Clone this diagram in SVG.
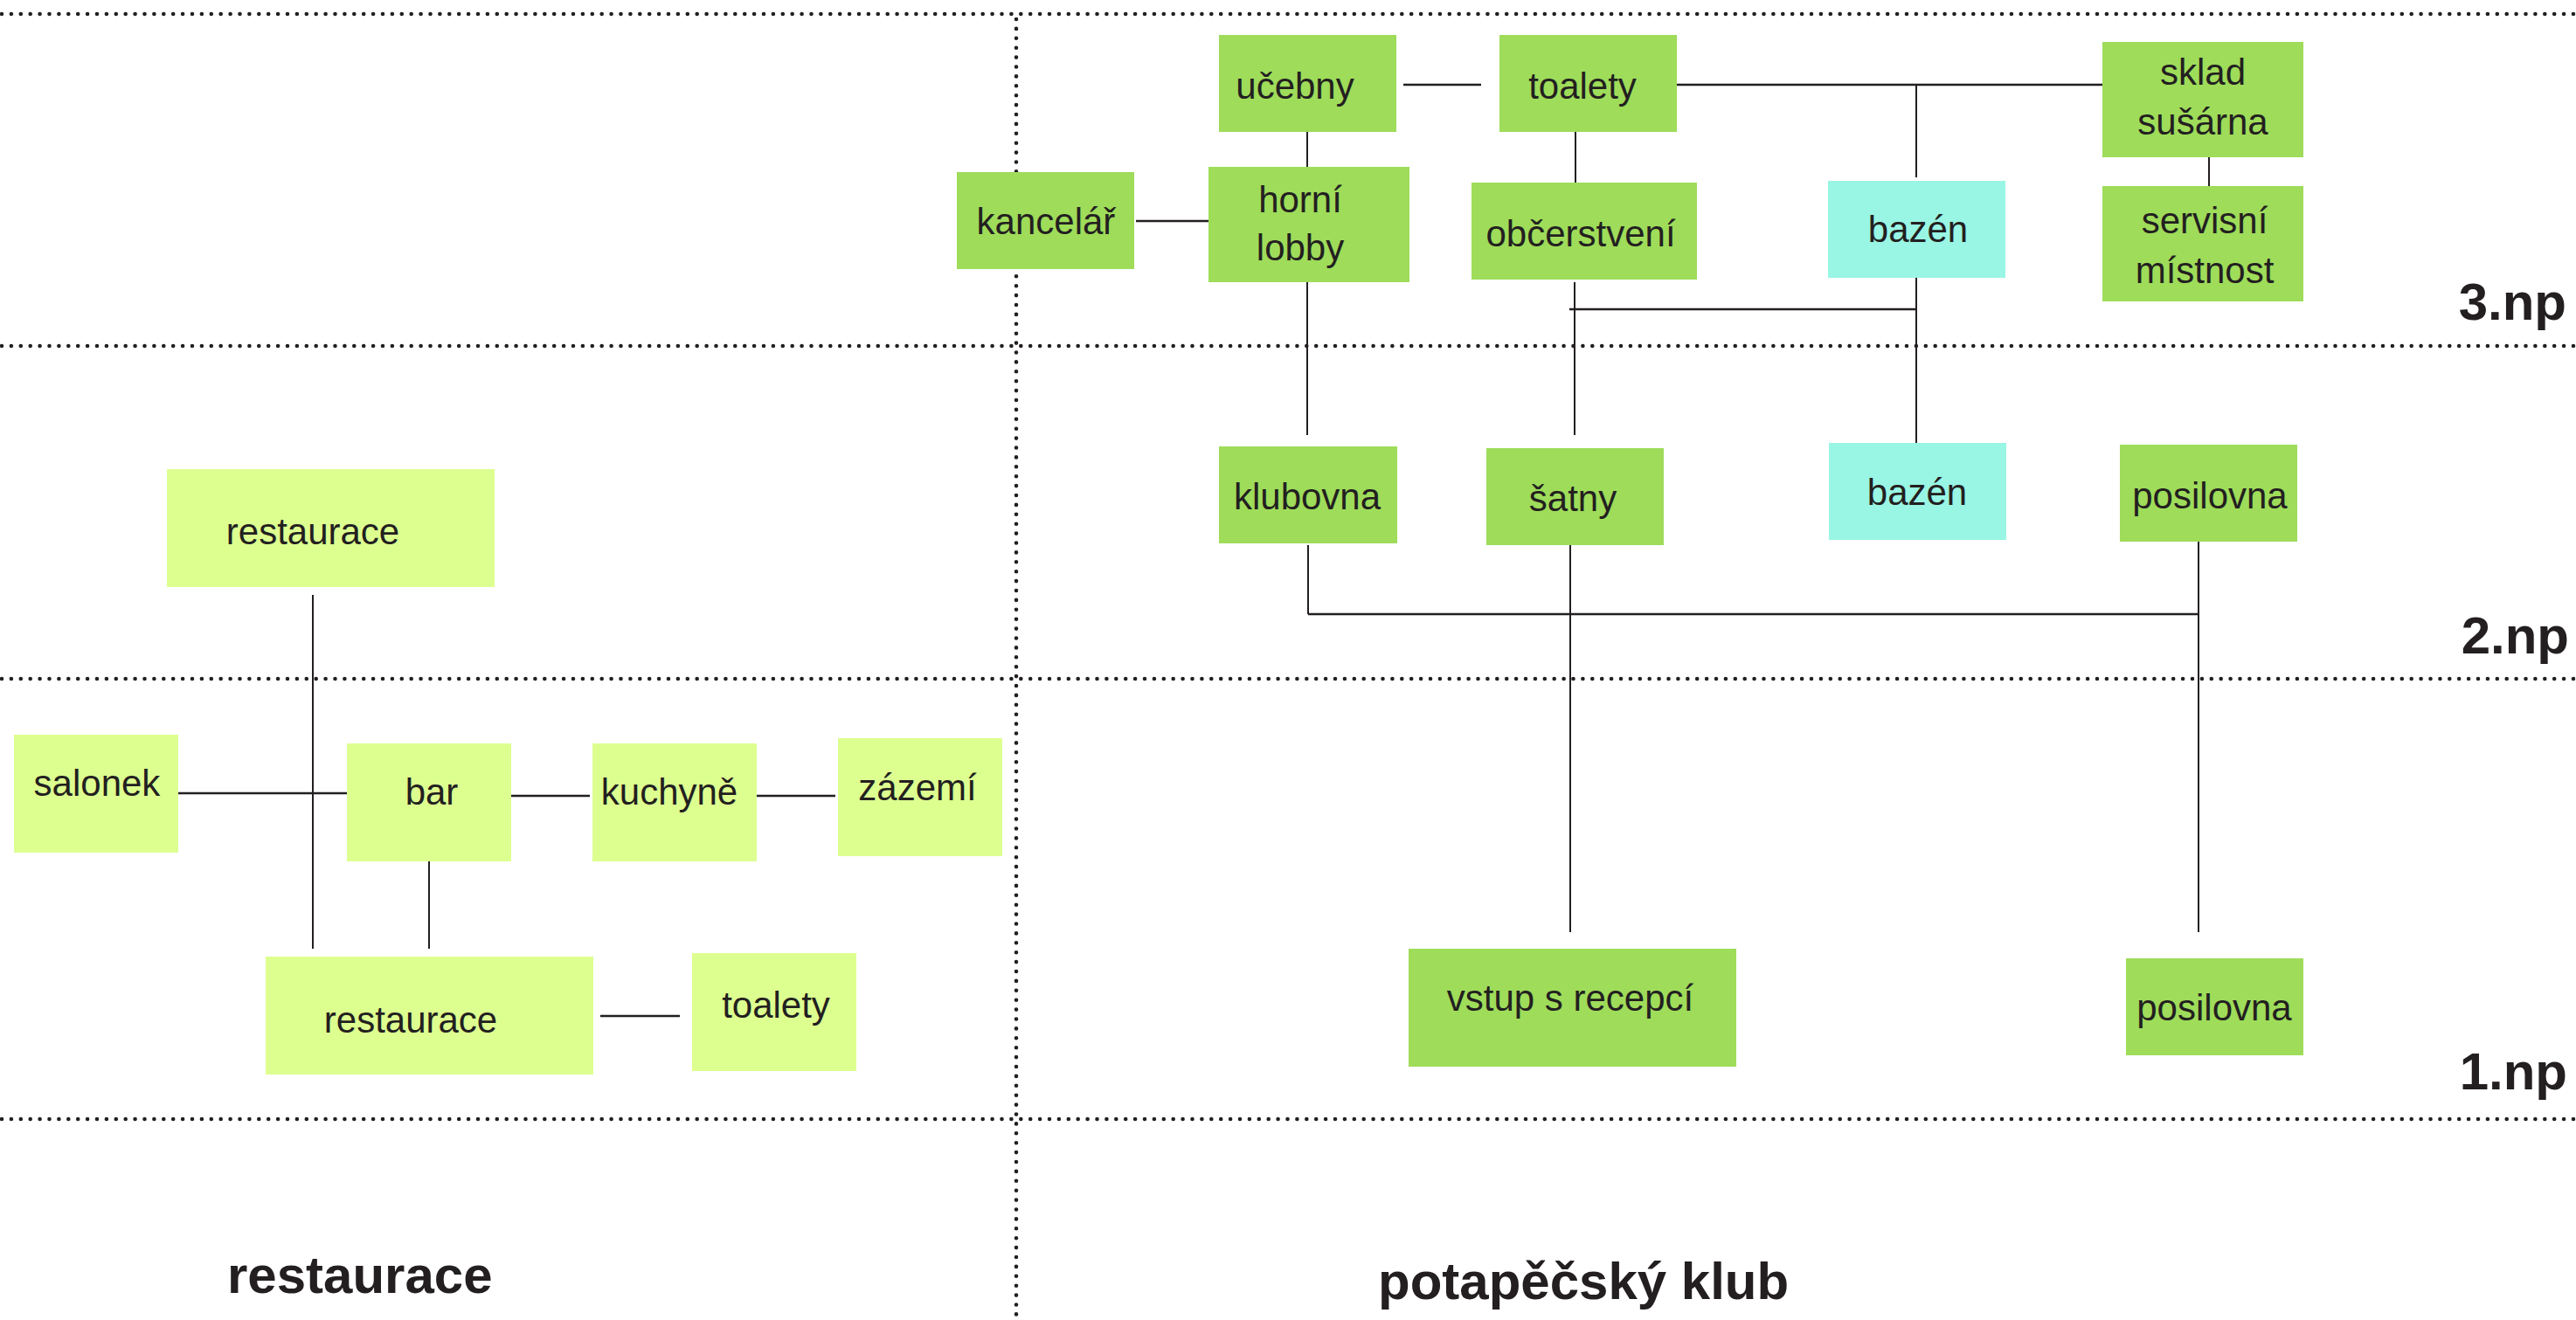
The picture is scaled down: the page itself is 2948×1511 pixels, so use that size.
<svg xmlns="http://www.w3.org/2000/svg" width="2948" height="1511" viewBox="0 0 2948 1511">
<style>
  .g rect { fill: #9edc5a; }
  .y rect { fill: #ddff90; }
  .c rect { fill: #99f5e4; }
  text { font-family: "Liberation Sans", Arial, sans-serif; fill: #231f20; }
  .t { font-size: 42px; text-anchor: middle; }
  .b { font-size: 60px; font-weight: bold; }
  .e { text-anchor: end; }
  .dot { stroke: #231f20; stroke-width: 4.6; stroke-linecap: round; stroke-dasharray: 0 10.9; fill: none; }
  .ln line { stroke: #231f20; stroke-width: 2; }
  .ln line.h { stroke-width: 2.5; }
</style>
<rect width="2948" height="1511" fill="#ffffff"/>
<g id="grid">
  <line class="dot" x1="2" y1="16" x2="2948" y2="16"/>
  <line class="dot" x1="2" y1="396" x2="2948" y2="396"/>
  <line class="dot" x1="2" y1="777" x2="2948" y2="777"/>
  <line class="dot" x1="2" y1="1281" x2="2948" y2="1281"/>
  <line class="dot" x1="1163" y1="22" x2="1163" y2="1511"/>
</g>
<g id="connectors" class="ln">
  <line x1="358" y1="681" x2="358" y2="1086"/>
  <line class="h" x1="204" y1="908" x2="413" y2="908"/>
  <line class="h" x1="585" y1="911" x2="675" y2="911"/>
  <line class="h" x1="866" y1="911" x2="956" y2="911"/>
  <line x1="491" y1="948" x2="491" y2="1086"/>
  <line class="h" x1="687" y1="1163" x2="778" y2="1163"/>
  <line class="h" x1="1606" y1="97" x2="1695" y2="97"/>
  <line class="h" x1="1919" y1="97" x2="2406" y2="97"/>
  <line x1="2193" y1="97" x2="2193" y2="203"/>
  <line x1="1496" y1="142" x2="1496" y2="209"/>
  <line class="h" x1="1300" y1="253" x2="1391" y2="253"/>
  <line x1="1496" y1="323" x2="1496" y2="498"/>
  <line x1="1803" y1="146" x2="1803" y2="213"/>
  <line x1="1802" y1="323" x2="1802" y2="498"/>
  <line class="h" x1="1796" y1="354" x2="2193" y2="354"/>
  <line x1="2193" y1="318" x2="2193" y2="508"/>
  <line x1="2528" y1="169" x2="2528" y2="224"/>
  <line x1="1497" y1="624" x2="1497" y2="703"/>
  <line class="h" x1="1497" y1="703" x2="2516" y2="703"/>
  <line x1="1797" y1="622" x2="1797" y2="1067"/>
  <line x1="2516" y1="620" x2="2516" y2="1067"/>
</g>
<g id="restaurace-top" class="y"><rect x="191" y="537" width="375" height="135"/><text class="t" x="358" y="623">restaurace</text></g>
<g id="salonek" class="y"><rect x="16" y="841" width="188" height="135"/><text class="t" x="111" y="911">salonek</text></g>
<g id="bar" class="y"><rect x="397" y="851" width="188" height="135"/><text class="t" x="494" y="921">bar</text></g>
<g id="kuchyne" class="y"><rect x="678" y="851" width="188" height="135"/><text class="t" x="766" y="921">kuchyně</text></g>
<g id="zazemi" class="y"><rect x="959" y="845" width="188" height="135"/><text class="t" x="1050" y="916">zázemí</text></g>
<g id="restaurace-bottom" class="y"><rect x="304" y="1095" width="375" height="135"/><text class="t" x="470" y="1182">restaurace</text></g>
<g id="toalety-r" class="y"><rect x="792" y="1091" width="188" height="135"/><text class="t" x="888" y="1165">toalety</text></g>

<g id="ucebny" class="g"><rect x="1395" y="40" width="203" height="111"/><text class="t" x="1482" y="113">učebny</text></g>
<g id="toalety-k" class="g"><rect x="1716" y="40" width="203" height="111"/><text class="t" x="1811" y="113">toalety</text></g>
<g id="kancelar" class="g"><rect x="1095" y="197" width="203" height="111"/><text class="t" x="1197" y="268">kancelář</text></g>
<g id="horni-lobby" class="g"><rect x="1383" y="191" width="230" height="132"/><text class="t" x="1488" y="243">horní</text><text class="t" x="1488" y="298">lobby</text></g>
<g id="obcerstveni" class="g"><rect x="1684" y="209" width="258" height="111"/><text class="t" x="1809" y="282">občerstvení</text></g>
<g id="bazen-3" class="c"><rect x="2092" y="207" width="203" height="111"/><text class="t" x="2195" y="277">bazén</text></g>
<g id="sklad" class="g"><rect x="2406" y="48" width="230" height="132"/><text class="t" x="2521" y="97">sklad</text><text class="t" x="2521" y="154">sušárna</text></g>
<g id="servisni" class="g"><rect x="2406" y="213" width="230" height="132"/><text class="t" x="2523" y="267">servisní</text><text class="t" x="2523" y="324">místnost</text></g>
<g id="klubovna" class="g"><rect x="1395" y="511" width="204" height="111"/><text class="t" x="1496" y="583">klubovna</text></g>
<g id="satny" class="g"><rect x="1701" y="513" width="203" height="111"/><text class="t" x="1800" y="585">šatny</text></g>
<g id="bazen-2" class="c"><rect x="2093" y="507" width="203" height="111"/><text class="t" x="2194" y="578">bazén</text></g>
<g id="posilovna-2" class="g"><rect x="2426" y="509" width="203" height="111"/><text class="t" x="2529" y="582">posilovna</text></g>
<g id="vstup" class="g"><rect x="1612" y="1086" width="375" height="135"/><text class="t" x="1797" y="1157">vstup s recepcí</text></g>
<g id="posilovna-1" class="g"><rect x="2433" y="1097" width="203" height="111"/><text class="t" x="2534" y="1168">posilovna</text></g>

<g id="labels">
  <text class="b e" x="2937" y="366">3.np</text>
  <text class="b e" x="2940" y="748">2.np</text>
  <text class="b e" x="2938" y="1247">1.np</text>
  <text class="b" x="260" y="1480">restaurace</text>
  <text class="b" x="1577" y="1487">potapěčský klub</text>
</g>
</svg>
